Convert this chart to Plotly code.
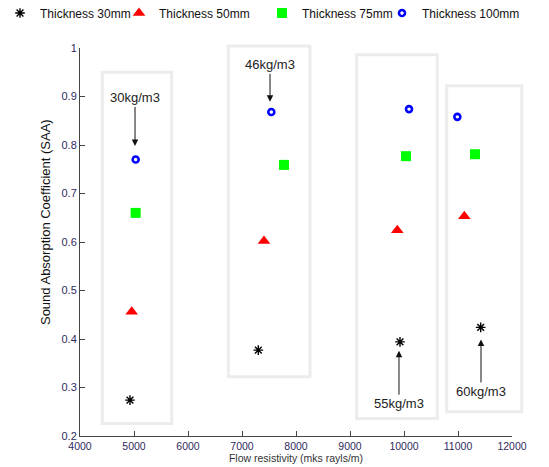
import plotly.graph_objects as go

# ---- data ----
series_names = ["Thickness 30mm", "Thickness 50mm", "Thickness 75mm", "Thickness 100mm"]
x_30 = [4926, 7302, 9926, 11420]
y_30 = [0.274, 0.377, 0.394, 0.424]
x_50 = [4957, 7407, 9876, 11117]
y_50 = [0.456, 0.602, 0.624, 0.653]
x_75 = [5031, 7778, 10037, 11315]
y_75 = [0.660, 0.759, 0.777, 0.781]
x_100 = [5031, 7543, 10093, 10988]
y_100 = [0.770, 0.868, 0.874, 0.858]

density_labels = ["30kg/m3", "46kg/m3", "55kg/m3", "60kg/m3"]
label_x = [5019, 7519, 9907, 11426]
label_y = [0.798, 0.889, 0.376, 0.399]

# group boxes (data units): x0, x1, y0, y1
box_x0 = [4413, 6747, 9123, 10790]
box_x1 = [5698, 8259, 10617, 12180]
box_y0 = [0.226, 0.322, 0.236, 0.250]
box_y1 = [0.950, 1.004, 0.986, 0.922]

XR = [4000, 12000]
YR = [0.2, 1.0]

W, H = 549, 467
ML, MR, MT, MB = 80, 37, 48, 31

FONT = "Liberation Sans, Arial, sans-serif"

fig = go.Figure()

styles = [
    dict(symbol="asterisk-open", size=8, color="black", line=dict(color="black", width=1.4)),
    dict(symbol="triangle-up", size=11, color="#ff0000", line=dict(width=0)),
    dict(symbol="square", size=10, color="#00ff00", line=dict(width=0)),
    dict(symbol="circle-open", size=6, color="#0000ff", line=dict(color="#0000ff", width=2.6)),
]
xs = [x_30, x_50, x_75, x_100]
ys = [y_30, y_50, y_75, y_100]
legend_ids = ["legend", "legend2", "legend3", "legend4"]
for name, x, y, st, lg in zip(series_names, xs, ys, styles, legend_ids):
    fig.add_trace(go.Scatter(x=x, y=y, mode="markers", name=name, marker=st,
                             legend=lg, cliponaxis=False))

def to_paper_x(v):
    return (v - XR[0]) / (XR[1] - XR[0])

def to_paper_y(v):
    return (v - YR[0]) / (YR[1] - YR[0])

for a, b, c, d in zip(box_x0, box_x1, box_y0, box_y1):
    fig.add_shape(type="rect", xref="paper", yref="paper",
                  x0=to_paper_x(a), x1=to_paper_x(b),
                  y0=to_paper_y(c), y1=to_paper_y(d),
                  line=dict(color="#ececec", width=3), layer="below")

# density annotations with arrows (text offsets in px)
offsets_ay = [-48, -37, 53, 52]
for t, x, y, ay in zip(density_labels, label_x, label_y, offsets_ay):
    fig.add_annotation(x=x, y=y, xref="x", yref="y", text=t, showarrow=True,
                       ax=0, ay=ay, arrowhead=2, arrowsize=1.3, arrowwidth=1,
                       arrowcolor="#111", font=dict(size=13, color="#222", family=FONT))

# y axis title as annotation
fig.add_annotation(xref="paper", yref="paper", x=-0.081, y=0.5515,
                   text="Sound Absorption Coefficient (SAA)", textangle=-90,
                   showarrow=False, font=dict(size=13, color="#111", family=FONT),
                   xanchor="center", yanchor="middle")

legend_text_x = [23, 157, 300, 420]
leg_common = dict(orientation="h", xref="container", yref="container",
                  xanchor="left", yanchor="middle", bgcolor="rgba(0,0,0,0)",
                  font=dict(size=12, color="#111", family=FONT),
                  itemwidth=30)
legends = {}
for lg, tx in zip(legend_ids, legend_text_x):
    legends[lg] = dict(x=(tx - 38) / W, y=1 - 13 / H, **leg_common)

fig.update_layout(
    width=W, height=H,
    margin=dict(l=ML, r=MR, t=MT, b=MB),
    paper_bgcolor="white", plot_bgcolor="white",
    font=dict(family=FONT),
    showlegend=True,
    **legends,
    xaxis=dict(range=XR, dtick=1000, tick0=4000, tickformat="d", automargin=False,
               showline=True, linecolor="#444", linewidth=1,
               ticks="inside", ticklen=5, tickcolor="#444",
               showgrid=False, zeroline=False,
               tickfont=dict(size=10.5, color="#2e2a5e"),
               title=dict(text="Flow resistivity (mks rayls/m)",
                          font=dict(size=10.5, color="#333"), standoff=2)),
    yaxis=dict(range=YR, dtick=0.1, tick0=0.2, automargin=False,
               showline=True, linecolor="#444", linewidth=1,
               ticks="inside", ticklen=5, tickcolor="#444",
               showgrid=False, zeroline=False,
               tickfont=dict(size=11, color="#2e2a5e")),
)

fig.write_html("out.html")
